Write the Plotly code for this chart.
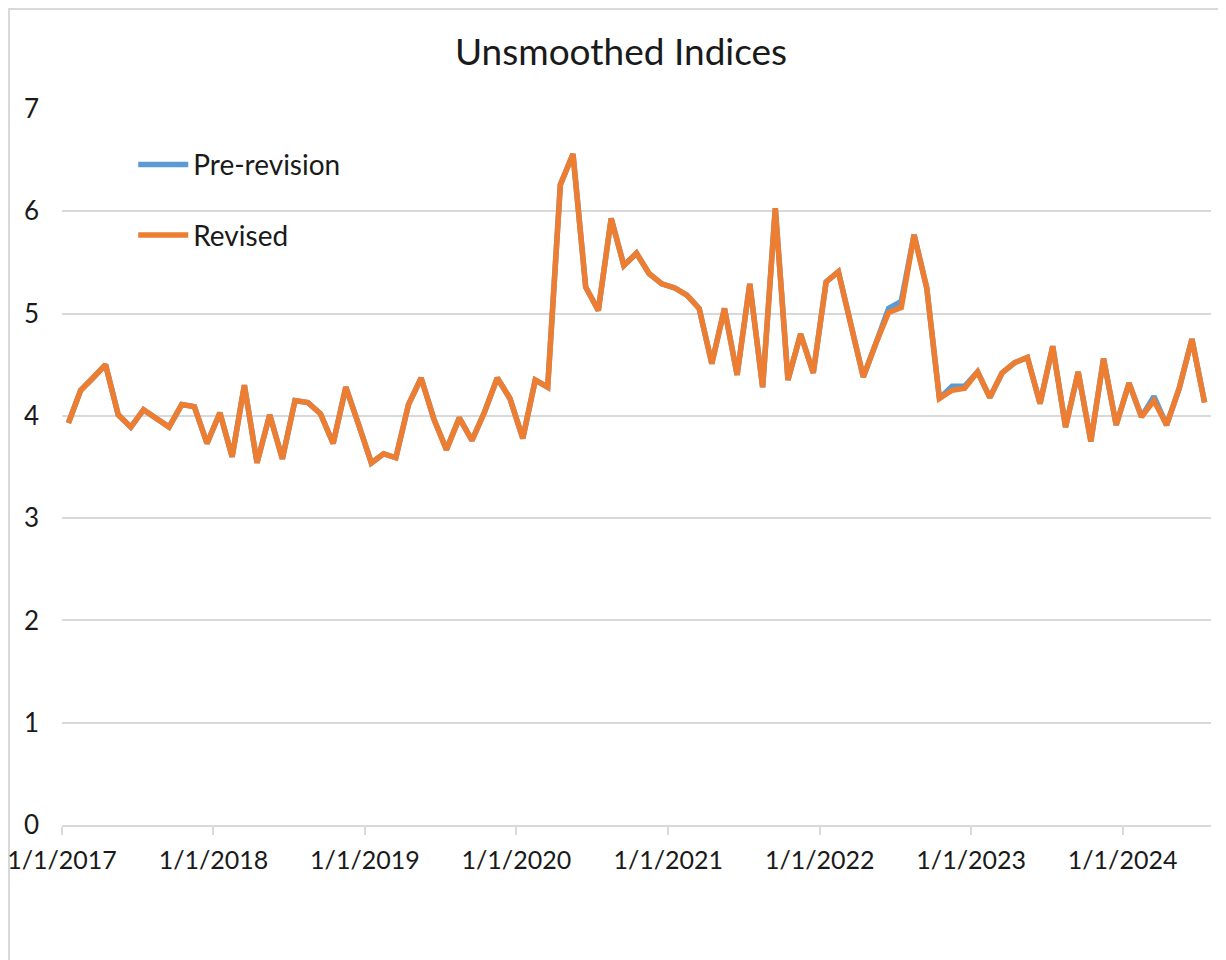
import plotly.graph_objects as go
import pandas as pd

# Monthly data, Jan 2017 - Jul 2024
months = pd.date_range("2017-01-01", "2024-07-01", freq="MS").strftime("%Y-%m-%d").tolist()

revised = [
    3.93, 4.25, 4.37, 4.50, 4.01, 3.89, 4.06, 3.98, 3.89, 4.11, 4.09, 3.73,
    4.03, 3.60, 4.30, 3.54, 4.01, 3.58, 4.15, 4.13, 4.02, 3.73, 4.28, 3.92,
    3.54, 3.63, 3.59, 4.11, 4.37, 3.97, 3.67, 3.98, 3.76, 4.04, 4.37, 4.17,
    3.78, 4.35, 4.28, 6.26, 6.56, 5.26, 5.03, 5.93, 5.47, 5.59, 5.39, 5.29,
    5.25, 5.18, 5.05, 4.51, 5.05, 4.40, 5.29, 4.28, 6.03, 4.35, 4.80, 4.42,
    5.31, 5.41, 4.90, 4.38, 4.71, 5.01, 5.06, 5.77, 5.25, 4.17, 4.25, 4.27,
    4.43, 4.18, 4.42, 4.52, 4.57, 4.12, 4.68, 3.89, 4.43, 3.75, 4.56, 3.91,
    4.32, 3.99, 4.15, 3.91, 4.27, 4.75, 4.13,
]

pre_revision = [
    3.93, 4.25, 4.37, 4.50, 4.01, 3.89, 4.06, 3.98, 3.89, 4.11, 4.09, 3.73,
    4.03, 3.60, 4.30, 3.54, 4.01, 3.58, 4.15, 4.13, 4.02, 3.73, 4.28, 3.92,
    3.54, 3.63, 3.59, 4.11, 4.37, 3.97, 3.67, 3.98, 3.76, 4.04, 4.37, 4.17,
    3.78, 4.35, 4.28, 6.26, 6.56, 5.26, 5.03, 5.93, 5.47, 5.59, 5.39, 5.29,
    5.25, 5.18, 5.05, 4.51, 5.05, 4.40, 5.29, 4.28, 6.03, 4.35, 4.80, 4.42,
    5.31, 5.41, 4.90, 4.38, 4.71, 5.05, 5.12, 5.77, 5.25, 4.17, 4.29, 4.29,
    4.43, 4.18, 4.42, 4.52, 4.57, 4.12, 4.68, 3.89, 4.43, 3.75, 4.56, 3.91,
    4.32, 3.99, 4.19, 3.91, 4.27, 4.75, 4.13,
]

tick_dates = ["2017-01-01", "2018-01-01", "2019-01-01", "2020-01-01",
              "2021-01-01", "2022-01-01", "2023-01-01", "2024-01-01"]
tick_labels = ["1/1/2017", "1/1/2018", "1/1/2019", "1/1/2020",
               "1/1/2021", "1/1/2022", "1/1/2023", "1/1/2024"]

FONT = "Lato, 'Open Sans', sans-serif"
TXT = "#1a1a1a"
GRID = "#d9d9d9"

# page has an 8px body margin; figure is sized so the plot area lands where the reference has it
W, H = 1218, 952
PX0, PX1, PY0, PY1 = 62, 1211, 109, 825   # plot area in page pixels
PW, PH = PX1 - PX0, PY1 - PY0

fig = go.Figure()
fig.add_trace(go.Scatter(
    x=months, y=pre_revision, name="Pre-revision", mode="lines",
    xperiod="M1", xperiodalignment="middle",
    line=dict(color="#5B9BD5", width=5.5, shape="linear"),
    legendgroup="a",
))
fig.add_trace(go.Scatter(
    x=months, y=revised, name="Revised", mode="lines",
    xperiod="M1", xperiodalignment="middle",
    line=dict(color="#ED7D31", width=5.5, shape="linear"),
    legendgroup="b",
))

fig.update_layout(
    width=W, height=H,
    margin=dict(l=PX0 - 8, r=W + 8 - PX1, t=PY0 - 8, b=H + 8 - PY1),
    paper_bgcolor="white", plot_bgcolor="white",
    font=dict(family=FONT, color=TXT, size=26),
    title=dict(text="Unsmoothed Indices", x=(621 - 8) / W, xanchor="center",
               y=1 - (52 - 8) / H, yanchor="middle", xref="container", yref="container",
               font=dict(family=FONT, size=37, color=TXT), automargin=False),
    showlegend=True,
    legend=dict(x=0.062, y=0.957, xanchor="left", yanchor="top",
                bgcolor="rgba(0,0,0,0)", font=dict(size=28, color=TXT),
                tracegroupgap=31, itemwidth=50),
    xaxis=dict(
        type="date", range=["2017-01-01", "2024-08-01"],
        tickvals=tick_dates, ticktext=tick_labels,
        showgrid=False, showline=True, linecolor=GRID, linewidth=2,
        ticks="outside", ticklen=8, tickcolor=GRID, tickwidth=2,
        tickfont=dict(size=25, color=TXT), ticklabelstandoff=4,
        ticklabeloverflow="allow", automargin=False,
        zeroline=False,
    ),
    yaxis=dict(
        range=[0, 7], dtick=1, tick0=0,
        showgrid=True, gridcolor=GRID, gridwidth=1.5,
        showline=False, zeroline=False, automargin=False,
        tickfont=dict(size=26, color=TXT), ticklabelstandoff=22,
    ),
    shapes=[dict(type="rect", xref="paper", yref="paper",
                 x0=(9 - PX0) / PW, x1=(1250 - PX0) / PW,
                 y0=(PY1 - 990) / PH, y1=(PY1 - 9) / PH,
                 line=dict(color=GRID, width=2), fillcolor="rgba(0,0,0,0)",
                 layer="below")],
)

fig.write_html("out.html")
